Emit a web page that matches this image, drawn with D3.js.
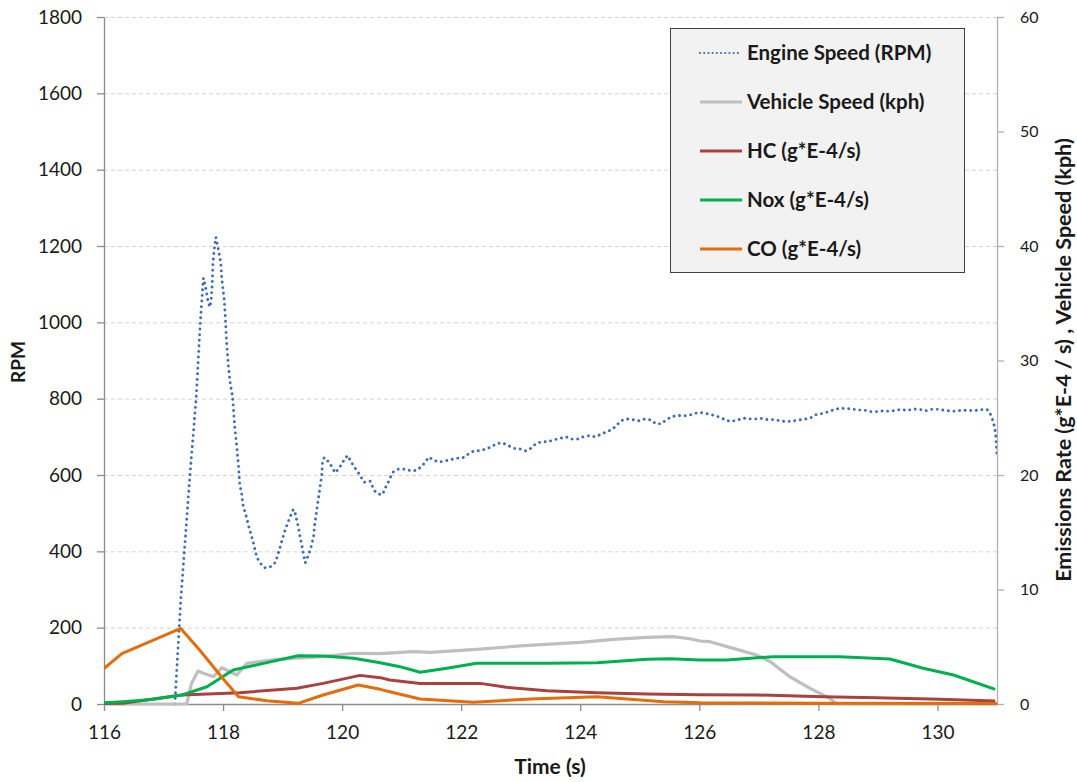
<!DOCTYPE html>
<html>
<head>
<meta charset="utf-8">
<script src="https://cdn.jsdelivr.net/npm/d3@7"></script>
<style>
  body { margin: 0; background: #ffffff; }
  text { font-family: Lato, "Open Sans", "Liberation Sans", sans-serif; fill: #1a1a1a; }
</style>
</head>
<body>
<svg id="chart" width="1077" height="782"></svg>
<script>
// ---- Data: time (s) vs. value ----
const engineSpeed = [ // RPM, left axis
  [117.19,0],[117.29,272],[117.44,592],[117.55,805],[117.62,1006],[117.67,1116],[117.71,1090],[117.75,1053],
  [117.78,1040],[117.80,1058],[117.82,1106],[117.83,1155],[117.85,1189],[117.88,1223],[117.92,1192],[117.96,1159],
  [117.98,1111],[118.02,1058],[118.04,1006],[118.06,946],[118.09,884],[118.12,841],[118.16,805],[118.19,736],
  [118.23,674],[118.26,622],[118.28,572],[118.31,556],[118.33,524],[118.39,491],[118.44,460],[118.50,428],
  [118.55,395],[118.58,381],[118.63,368],[118.70,357],[118.80,360],[118.88,371],[118.91,386],[118.97,418],
  [119.03,450],[119.10,480],[119.14,495],[119.18,510],[119.21,500],[119.26,467],[119.30,434],[119.34,403],
  [119.38,370],[119.40,377],[119.47,406],[119.52,438],[119.54,471],[119.57,504],[119.60,536],[119.63,569],
  [119.66,603],[119.67,633],[119.70,646],[119.77,635],[119.83,621],[119.88,606],[119.95,618],[120.00,631],
  [120.06,646],[120.10,651],[120.14,637],[120.20,622],[120.26,609],[120.32,594],[120.37,581],[120.47,584],
  [120.51,570],[120.56,555],[120.64,549],[120.68,549],[120.72,565],[120.77,579],[120.81,594],[120.86,608],
  [120.94,615],[121.06,615],[121.16,611],[121.25,612],[121.34,623],[121.40,635],[121.46,647],[121.53,639],
  [121.63,634],[121.73,637],[121.84,641],[121.93,644],[122.04,646],[122.12,655],[122.20,662],[122.32,664],
  [122.41,668],[122.51,674],[122.60,683],[122.70,684],[122.79,677],[122.89,670],[122.99,668],[123.09,663],
  [123.18,671],[123.26,683],[123.35,687],[123.45,687],[123.56,692],[123.66,696],[123.76,700],[123.86,694],
  [123.95,694],[124.05,700],[124.15,703],[124.25,700],[124.34,706],[124.44,713],[124.54,720],[124.61,730],
  [124.68,742],[124.78,747],[124.88,745],[124.99,742],[125.09,747],[125.19,744],[125.27,734],[125.36,734],
  [125.44,744],[125.54,753],[125.64,756],[125.74,755],[125.84,757],[125.94,762],[126.04,763],[126.15,760],
  [126.25,756],[126.35,751],[126.44,744],[126.53,740],[126.64,744],[126.74,749],[126.84,747],[126.94,747],
  [127.05,748],[127.15,745],[127.25,745],[127.36,742],[127.46,740],[127.56,741],[127.66,744],[127.77,746],
  [127.87,750],[127.97,759],[128.07,761],[128.17,766],[128.26,771],[128.36,775],[128.46,774],[128.57,773],
  [128.67,770],[128.77,770],[128.88,766],[128.98,766],[129.08,768],[129.19,767],[129.29,769],[129.39,772],
  [129.49,769],[129.60,773],[129.70,772],[129.80,768],[129.90,772],[130.00,772],[130.10,770],[130.20,768],
  [130.31,767],[130.41,770],[130.52,769],[130.62,769],[130.72,771],[130.83,772],[130.88,763],[130.92,747],
  [130.95,731],[130.97,715],[130.98,700],[131.00,650]
];

const vehicleSpeed = [ // kph, right axis
  [116,0],[117.39,0],[117.47,1.8],[117.58,2.88],[117.67,2.68],[117.84,2.38],[117.98,3.17],[118.23,2.53],
  [118.40,3.55],[118.90,3.9],[119.68,4.13],[120.19,4.43],[120.64,4.4],[121.20,4.57],[121.48,4.51],[122.32,4.8],
  [122.99,5.07],[124.00,5.39],[124.56,5.65],[125.12,5.82],[125.56,5.88],[125.84,5.7],[126.01,5.5],[126.18,5.44],
  [126.57,4.86],[126.96,4.28],[127.19,3.7],[127.52,2.38],[127.86,1.37],[128.19,0.5],[128.31,0],[131,0]
];

const hcRate = [ // g*E-4/s, right axis
  [116,0.05],[116.32,0.06],[117.31,0.79],[118.28,0.99],[119.24,1.37],[119.68,1.8],[120.30,2.5],[120.64,2.3],
  [120.80,2.1],[121.31,1.8],[122.32,1.8],[122.76,1.46],[123.44,1.16],[124.28,0.99],[125.12,0.87],[126.0,0.8],
  [126.96,0.79],[128.08,0.64],[128.98,0.55],[130.04,0.41],[130.97,0.26]
];

const noxRate = [ // g*E-4/s, right axis
  [116,0.1],[116.32,0.2],[116.8,0.4],[117.31,0.79],[117.73,1.51],[118.17,2.97],[118.68,3.55],[119.26,4.22],
  [119.68,4.19],[120.19,3.99],[120.64,3.61],[120.97,3.26],[121.31,2.77],[121.76,3.12],[122.26,3.55],[123.44,3.55],
  [124.28,3.61],[125.12,3.9],[125.51,3.96],[126.01,3.84],[126.46,3.84],[127.24,4.13],[128.36,4.13],[129.20,3.93],
  [129.76,3.12],[130.27,2.53],[130.97,1.28]
];

const coRate = [ // g*E-4/s, right axis
  [116,3.1],[116.30,4.4],[117.29,6.6],[117.61,4.7],[118.0,2.2],[118.26,0.64],[118.73,0.29],[119.26,0.06],
  [119.68,0.79],[120.27,1.66],[120.64,1.28],[120.80,1.07],[121.31,0.44],[122.20,0.15],[123.16,0.44],[124.28,0.64],
  [125.40,0.2],[126.01,0.11],[128,0.06],[131,0.05]
];

const timeTicks = [116,118,120,122,124,126,128,130];
const rpmTicks = [0,200,400,600,800,1000,1200,1400,1600,1800];
const rateTicks = [0,10,20,30,40,50,60];

const seriesNames = ["Engine Speed (RPM)","Vehicle Speed (kph)","HC (g*E-4/s)","Nox (g*E-4/s)","CO (g*E-4/s)"];

// ---- Layout ----
const svg = d3.select("#chart");
const plot = {left: 104, right: 997, top: 17, bottom: 704};

const x = d3.scaleLinear().domain([116,131]).range([plot.left, plot.right]);
const yL = d3.scaleLinear().domain([0,1800]).range([plot.bottom, plot.top]);
const yR = d3.scaleLinear().domain([0,60]).range([plot.bottom, plot.top]);

svg.append("defs").append("clipPath").attr("id","plotClip")
  .append("rect").attr("x",plot.left).attr("y",plot.top - 4)
  .attr("width",plot.right - plot.left).attr("height",plot.bottom - plot.top + 6);

// Horizontal gridlines from the RPM axis
svg.append("g").selectAll("line")
  .data(rpmTicks.filter(d => d > 0)).join("line")
  .attr("x1", plot.left).attr("x2", plot.right)
  .attr("y1", d => yL(d) + 0.5).attr("y2", d => yL(d) + 0.5)
  .attr("stroke", "#d4d4d4").attr("stroke-width", 1).attr("stroke-dasharray", "4,3");

// ---- Axes ----
function styleAxis(g, color) {
  g.select(".domain").attr("stroke", color).attr("stroke-width", 1.3);
  g.selectAll(".tick line").attr("stroke", color).attr("stroke-width", 1.3);
  g.selectAll(".tick text").attr("fill", "#1a1a1a");
}

const gLeft = svg.append("g").attr("transform", `translate(${plot.left},0)`)
  .call(d3.axisLeft(yL).tickValues(rpmTicks).tickFormat(d3.format("d"))
    .tickSize(7).tickSizeOuter(0).tickPadding(15))
  .call(g => styleAxis(g, "#8c8c8c"));
gLeft.selectAll(".tick text").attr("font-size", 19).attr("font-family", "Lato, sans-serif");

const gRight = svg.append("g").attr("transform", `translate(${plot.right},0)`)
  .call(d3.axisRight(yR).tickValues(rateTicks).tickSize(7).tickSizeOuter(0).tickPadding(16))
  .call(g => styleAxis(g, "#b0b0b0"));
gRight.selectAll(".tick text").attr("font-size", 16).attr("font-family", "'DejaVu Sans', sans-serif");

const gBottom = svg.append("g").attr("transform", `translate(0,${plot.bottom})`)
  .call(d3.axisBottom(x).tickValues(timeTicks).tickSize(7).tickSizeOuter(0).tickPadding(15).tickFormat(d3.format("d")))
  .call(g => styleAxis(g, "#8c8c8c"));
gBottom.selectAll(".tick text").attr("font-size", 19).attr("font-family", "Lato, sans-serif");

// Axis titles
svg.append("text").attr("transform", "translate(25,362) rotate(-90)")
  .attr("text-anchor", "middle").attr("font-weight", "bold").attr("font-size", 19).text("RPM");
svg.append("text").attr("x", 550).attr("y", 774)
  .attr("text-anchor", "middle").attr("font-weight", "bold").attr("font-size", 21).text("Time (s)");
svg.append("text").attr("transform", "translate(1071,360) rotate(-90)")
  .attr("text-anchor", "middle").attr("font-weight", "bold").attr("font-size", 21.5)
  .text("Emissions Rate  (g*E-4 / s) ,  Vehicle Speed (kph)");

// ---- Series ----
const lineL = d3.line().x(d => x(d[0])).y(d => yL(d[1]));
const lineR = d3.line().x(d => x(d[0])).y(d => yR(d[1]));

const lines = svg.append("g").attr("clip-path", "url(#plotClip)");

const styles = [
  {data: engineSpeed, gen: lineL, color: "#3d6db0", width: 2.9, dash: "0.01,5.6", cap: "round"},
  {data: vehicleSpeed, gen: lineR, color: "#bfbfbf", width: 3.2},
  {data: hcRate, gen: lineR, color: "#a8423f", width: 3},
  {data: noxRate, gen: lineR, color: "#00b050", width: 3},
  {data: coRate, gen: lineR, color: "#e46c0a", width: 3}
];

styles.forEach(s => {
  lines.append("path")
    .attr("d", s.gen(s.data))
    .attr("fill", "none")
    .attr("stroke", s.color)
    .attr("stroke-width", s.width)
    .attr("stroke-linejoin", "round")
    .attr("stroke-linecap", s.cap || "butt")
    .attr("stroke-dasharray", s.dash || null);
});

// ---- Legend ----
const legend = svg.append("g");
legend.append("rect").attr("x", 670.5).attr("y", 28.5).attr("width", 294).attr("height", 244)
  .attr("fill", "#f2f2f2").attr("stroke", "#404040").attr("stroke-width", 1);

const rowY = d3.scalePoint().domain(seriesNames).range([53, 249]);
seriesNames.forEach((name, i) => {
  const s = styles[i];
  const yy = rowY(name);
  legend.append("line").attr("x1", 700).attr("x2", 742).attr("y1", yy).attr("y2", yy)
    .attr("stroke", s.color).attr("stroke-width", i === 0 ? 2.2 : 3)
    .attr("stroke-linecap", s.cap || "butt")
    .attr("stroke-dasharray", i === 0 ? "0.01,4.2" : null);
  legend.append("text").attr("x", 747).attr("y", yy).attr("dy", "0.35em")
    .attr("font-weight", "bold").attr("font-size", 20.5).text(name);
});
</script>
</body>
</html>
